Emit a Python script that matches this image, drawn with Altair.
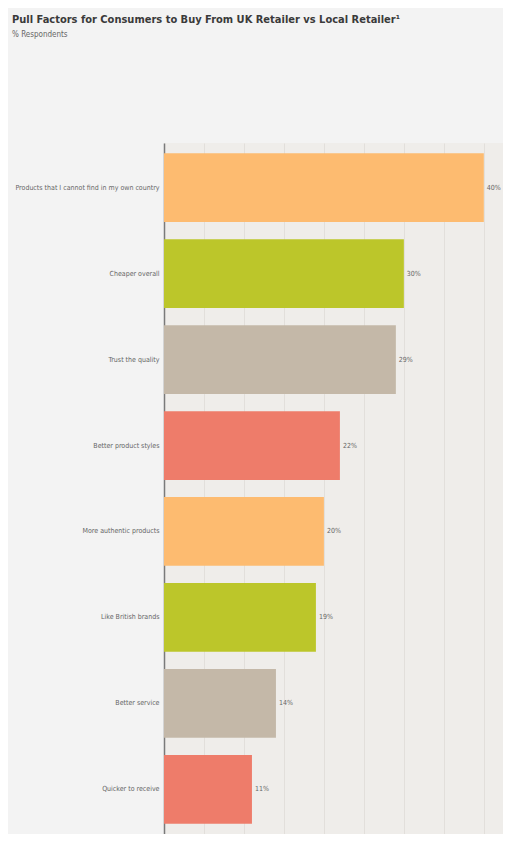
import altair as alt
import pandas as pd

categories = [
    "Products that I cannot find in my own country",
    "Cheaper overall",
    "Trust the quality",
    "Better product styles",
    "More authentic products",
    "Like British brands",
    "Better service",
    "Quicker to receive",
]
values = [40, 30, 29, 22, 20, 19, 14, 11]
colors = ["#FDBB70", "#BCC62A", "#C4B8A8", "#EE7C6A",
          "#FDBB70", "#BCC62A", "#C4B8A8", "#EE7C6A"]
labels = [f"{v}%" for v in values]

df = pd.DataFrame({"cat": categories, "val": values, "color": colors, "label": labels})

FONT = "DejaVu Sans Condensed"

base = alt.Chart(df).encode(
    y=alt.Y("cat:N", sort=categories, title=None,
            scale=alt.Scale(paddingInner=0.2, paddingOuter=0.12),
            axis=alt.Axis(labelFont=FONT, labelFontSize=7, labelColor="#666666",
                          labelPadding=5, ticks=False, domainColor="#7a7a7a",
                          domainWidth=1.5, minExtent=152, maxExtent=152,
                          labelLimit=150, grid=False)),
)

bars = base.mark_bar().encode(
    x=alt.X("val:Q", title=None, scale=alt.Scale(domain=[0, 42.4], nice=False),
            axis=alt.Axis(values=[0, 5, 10, 15, 20, 25, 30, 35, 40], labels=False,
                          ticks=False, domain=False, grid=True,
                          gridColor="#e2dfdb", gridWidth=1)),
    color=alt.Color("color:N", scale=None),
)

text = base.mark_text(align="left", dx=3, font=FONT, fontSize=7, color="#666666").encode(
    x="val:Q",
    text="label:N",
)

chart = (bars + text).properties(
    width=339,
    height=691,
    background="#f3f3f3",
    autosize=alt.AutoSizeParams(type="none"),
    padding={"left": 156, "top": 135, "right": 0, "bottom": 0},
    title=alt.TitleParams(
        "Pull Factors for Consumers to Buy From UK Retailer vs Local Retailer¹",
        subtitle="% Respondents",
        anchor="start",
        frame="bounds",
        font=FONT,
        fontSize=11,
        fontWeight="bold",
        color="#3a3a3a",
        subtitleFont=FONT,
        subtitleFontSize=8,
        subtitleColor="#666666",
        subtitlePadding=6,
        offset=104,
    ),
).configure_view(
    fill="#efedea", stroke=None
)

chart.save("out.html", embed_options={"renderer": "svg", "actions": False})
